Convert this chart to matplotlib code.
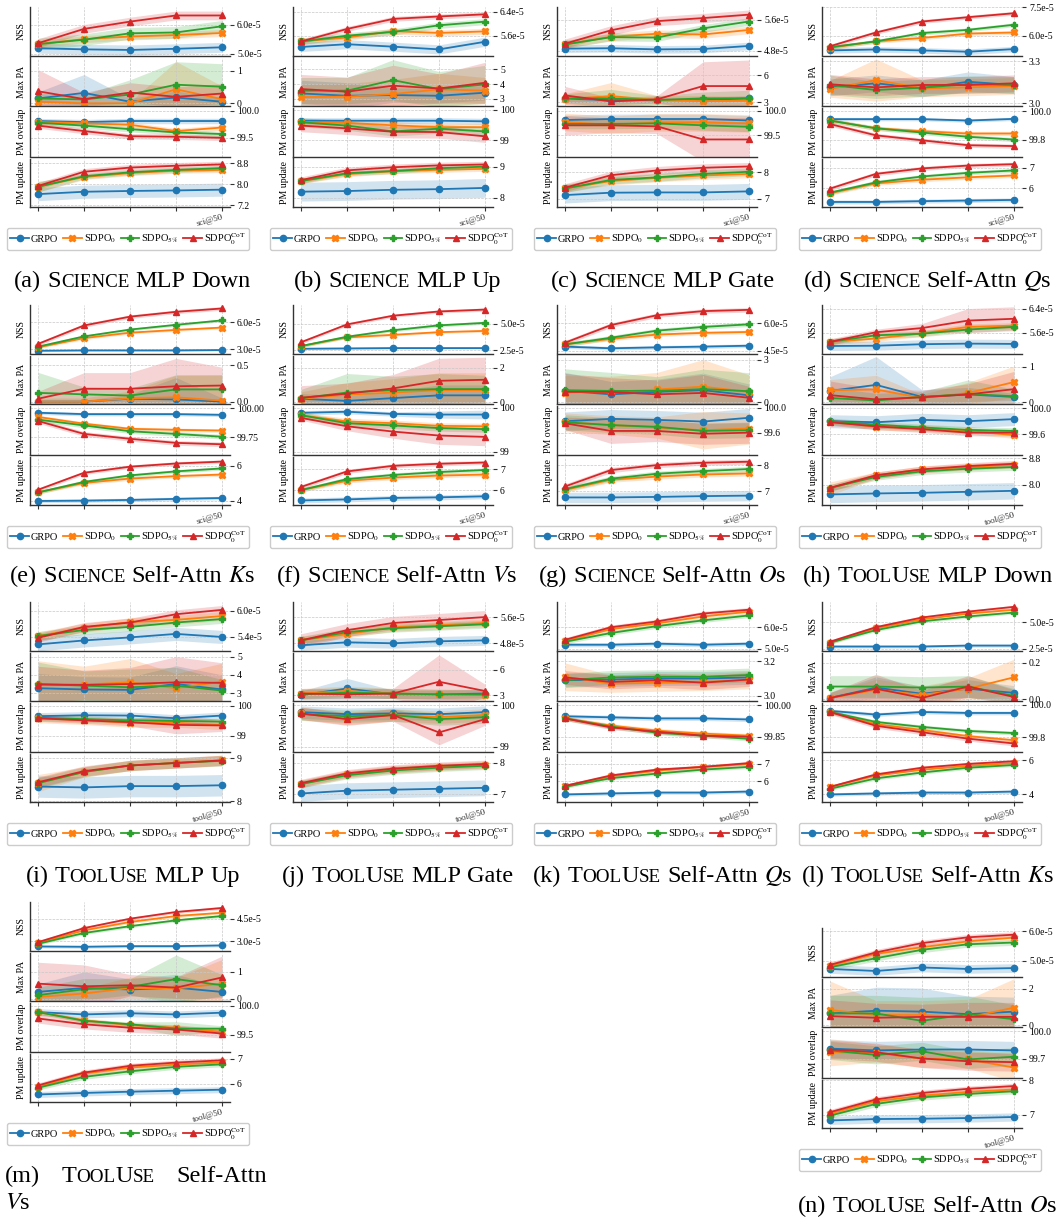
import matplotlib
matplotlib.use('Agg')
import matplotlib.pyplot as plt
import numpy as np

plt.rcParams.update({'font.family': 'Liberation Serif', 'mathtext.fontset': 'stix', 'font.size': 7})

METHODS = ['GRPO', 'SDPO$_0$', 'SDPO$_{5\\%}$', 'SDPO$_0^{\\mathrm{CoT}}$']
COLORS = ['#1f77b4', '#ff7f0e', '#2ca02c', '#d62728']
MARKERS = ['o', 'X', 'P', '^']
METRICS = ['NSS', 'Max PA', 'PM overlap', 'PM update']
PANELS = list('abcdefghijklmn')

# ---- NSS (in units of 1e-5); order: GRPO, SDPO0, SDPO5%, SDPO0-CoT
nss = {
    'a': [[5.19, 5.15, 5.13, 5.17, 5.22], [5.33, 5.50, 5.59, 5.64, 5.71], [5.33, 5.48, 5.70, 5.73, 5.94], [5.36, 5.85, 6.10, 6.31, 6.31]],
    'b': [[5.24, 5.33, 5.25, 5.16, 5.41], [5.42, 5.55, 5.76, 5.70, 5.75], [5.42, 5.61, 5.73, 5.95, 6.07], [5.42, 5.83, 6.16, 6.24, 6.31]],
    'c': [[4.85, 4.86, 4.83, 4.84, 4.92], [4.96, 5.16, 5.24, 5.22, 5.34], [4.96, 5.15, 5.14, 5.38, 5.56], [4.98, 5.33, 5.57, 5.65, 5.74]],
    'd': [[5.22, 5.27, 5.22, 5.15, 5.29], [5.36, 5.70, 5.88, 6.11, 6.17], [5.39, 5.70, 6.14, 6.31, 6.58], [5.44, 6.17, 6.75, 6.98, 7.19]],
    'e': [[2.85, 2.89, 2.89, 2.89, 2.93], [3.23, 4.24, 4.84, 5.14, 5.40], [3.30, 4.43, 5.18, 5.70, 6.19], [3.60, 5.63, 6.60, 7.13, 7.50]],
    'f': [[2.65, 2.68, 2.71, 2.71, 2.71], [2.90, 3.72, 3.96, 4.21, 4.33], [2.90, 3.78, 4.39, 4.85, 5.09], [3.26, 4.94, 5.76, 6.16, 6.34]],
    'g': [[4.73, 4.64, 4.69, 4.73, 4.78], [4.85, 5.15, 5.38, 5.47, 5.52], [4.85, 5.21, 5.59, 5.79, 5.93], [4.94, 5.89, 6.42, 6.64, 6.71]],
    'h': [[5.16, 5.17, 5.22, 5.24, 5.23], [5.30, 5.41, 5.58, 5.80, 5.84], [5.30, 5.52, 5.57, 5.71, 5.80], [5.30, 5.62, 5.76, 6.01, 6.07]],
    'i': [[5.23, 5.32, 5.39, 5.47, 5.40], [5.42, 5.61, 5.74, 5.79, 5.88], [5.42, 5.56, 5.63, 5.73, 5.81], [5.38, 5.63, 5.73, 5.92, 6.02]],
    'j': [[4.74, 4.83, 4.80, 4.86, 4.89], [4.89, 5.08, 5.29, 5.35, 5.42], [4.89, 5.14, 5.26, 5.32, 5.38], [4.89, 5.20, 5.42, 5.51, 5.60]],
    'k': [[5.18, 5.18, 5.23, 5.18, 5.23], [5.36, 5.91, 6.18, 6.50, 6.73], [5.32, 5.73, 6.05, 6.32, 6.55], [5.41, 6.00, 6.27, 6.64, 6.82]],
    'l': [[2.69, 2.69, 2.69, 2.78, 2.78], [3.06, 4.44, 5.28, 5.83, 6.20], [3.06, 4.26, 5.09, 5.56, 5.93], [3.15, 4.54, 5.46, 6.02, 6.48]],
    'm': [[2.64, 2.62, 2.66, 2.66, 2.71], [2.87, 3.72, 4.28, 4.68, 4.90], [2.82, 3.54, 4.00, 4.39, 4.68], [2.93, 3.87, 4.50, 4.95, 5.22]],
    'n': [[4.71, 4.64, 4.76, 4.71, 4.74], [4.82, 5.23, 5.46, 5.66, 5.79], [4.77, 5.08, 5.37, 5.56, 5.62], [4.85, 5.28, 5.60, 5.80, 5.89]],
}
nss_band = {
    'a': [0.17, 0.12, 0.2, 0.15], 'b': [0.15, 0.1, 0.1, 0.08], 'c': [0.1, 0.1, 0.1, 0.12],
    'd': [0.15, 0.1, 0.1, 0.1], 'e': [0.1, 0.15, 0.15, 0.2], 'f': [0.1, 0.12, 0.15, 0.15],
    'g': [0.1, 0.1, 0.12, 0.12], 'h': [0.15, 0.1, 0.1, [0.1, 0.1, 0.15, 0.4, 0.4]],
    'i': [0.15, 0.1, 0.1, 0.1], 'j': [0.15, 0.12, 0.12, 0.2], 'k': [0.1, 0.1, 0.1, 0.1],
    'l': [0.15, 0.15, 0.15, 0.15], 'm': [0.1, 0.1, 0.1, 0.1], 'n': [0.15, 0.1, 0.1, 0.1],
}
nss_ticks = {
    'a': ['5.0e-5', '6.0e-5'], 'b': ['5.6e-5', '6.4e-5'], 'c': ['4.8e-5', '5.6e-5'], 'd': ['6.0e-5', '7.5e-5'],
    'e': ['3.0e-5', '6.0e-5'], 'f': ['2.5e-5', '5.0e-5'], 'g': ['4.5e-5', '6.0e-5'], 'h': ['5.6e-5', '6.4e-5'],
    'i': ['5.4e-5', '6.0e-5'], 'j': ['4.8e-5', '5.6e-5'], 'k': ['5.0e-5', '6.0e-5'], 'l': ['2.5e-5', '5.0e-5'],
    'm': ['3.0e-5', '4.5e-5'], 'n': ['5.0e-5', '6.0e-5'],
}
nss_ylim = {
    'a': (4.94, 6.60), 'b': (4.96, 6.55), 'c': (4.67, 5.94), 'd': (4.95, 7.52), 'e': (2.55, 7.88),
    'f': (2.20, 6.77), 'g': (4.36, 6.97), 'h': (4.91, 6.53), 'i': (5.09, 6.20), 'j': (4.58, 6.06),
    'k': (4.91, 7.18), 'l': (2.31, 6.94), 'm': (2.37, 5.62), 'n': (4.45, 6.12),
}

# ---- Max PA
maxpa = {
    'a': [[0.15, 0.32, 0.05, 0.18, 0.05], [0.05, 0.0, 0.0, 0.43, 0.13], [0.15, 0.12, 0.27, 0.57, 0.51], [0.37, 0.13, 0.33, 0.20, 0.30]],
    'b': [[3.36, 3.20, 3.25, 3.20, 3.41], [3.11, 3.14, 3.32, 3.64, 3.55], [3.55, 3.55, 4.27, 3.66, 3.98], [3.66, 3.48, 3.89, 3.70, 4.09]],
    'c': [[3.37, 3.22, 3.22, 3.22, 3.41], [3.33, 3.67, 3.22, 3.11, 3.15], [3.41, 3.41, 3.22, 3.41, 3.41], [3.74, 3.07, 3.30, 4.78, 4.78]],
    'd': [[3.113, 3.142, 3.106, 3.153, 3.130], [3.102, 3.165, 3.106, 3.113, 3.123], [3.130, 3.094, 3.111, 3.135, 3.130], [3.135, 3.113, 3.130, 3.130, 3.142]],
    'e': [[0.0, 0.0, 0.04, 0.03, 0.0], [0.0, 0.0, 0.045, 0.06, 0.014], [0.12, 0.10, 0.083, 0.167, 0.167], [0.04, 0.176, 0.176, 0.21, 0.22]],
    'f': [[0.2, 0.08, 0.24, 0.40, 0.40], [0.2, 0.44, 0.56, 0.70, 0.70], [0.24, 0.56, 0.70, 0.76, 0.76], [0.26, 0.50, 0.80, 1.24, 1.30]],
    'g': [[0.80, 0.56, 0.73, 0.85, 0.49], [0.68, 0.73, 0.90, 1.10, 0.73], [0.85, 0.80, 0.80, 0.93, 0.78], [0.73, 0.73, 0.56, 0.66, 0.32]],
    'h': [[0.32, 0.49, 0.15, 0.22, 0.15], [0.34, 0.36, 0.12, 0.26, 0.57], [0.12, 0.05, 0.15, 0.23, 0.17], [0.20, 0.08, 0.14, 0.22, 0.37]],
    'i': [[3.27, 3.20, 3.18, 3.50, 3.20], [3.47, 3.47, 3.59, 3.27, 3.63], [3.50, 3.41, 3.32, 3.41, 3.14], [3.47, 3.45, 3.50, 3.59, 3.56]],
    'j': [[3.0, 3.8, 3.1, 3.1, 3.2], [3.2, 3.5, 3.2, 3.1, 3.0], [3.1, 3.3, 3.2, 3.1, 3.1], [3.2, 3.1, 3.2, 4.6, 3.5]],
    'k': [[3.090, 3.094, 3.100, 3.100, 3.106], [3.110, 3.070, 3.076, 3.080, 3.090], [3.090, 3.106, 3.110, 3.110, 3.120], [3.106, 3.080, 3.090, 3.076, 3.094]],
    'l': [[0.006, 0.063, 0.029, 0.057, 0.034], [0.006, 0.05, 0.023, 0.057, 0.12], [0.069, 0.069, 0.063, 0.069, 0.017], [0.006, 0.057, 0.006, 0.069, 0.011]],
    'm': [[0.25, 0.40, 0.34, 0.41, 0.25], [0.06, 0.19, 0.40, 0.38, 0.56], [0.13, 0.35, 0.44, 0.73, 0.50], [0.56, 0.46, 0.50, 0.41, 0.79]],
    'n': [[0.64, 0.79, 0.74, 0.60, 0.74], [0.83, 0.55, 0.55, 0.42, 0.96], [0.64, 0.64, 0.23, 0.60, 0.32], [0.49, 0.40, 0.45, 0.45, 0.45]],
}
maxpa_band = {
    'a': [[0.2, 0.56, 0.1, 0.2, 0.1], [0.1, 0.05, 0.05, 0.85, 0.4], [0.15, 0.15, 0.45, 0.7, 0.7], [0.66, 0.2, 0.3, 0.3, 0.3]],
    'b': [[0.9, 0.9, 0.5, 0.5, 0.5], [0.9, 0.9, 1.0, 1.1, 0.9], [0.9, 0.9, 1.4, 1.2, 1.3], [1.0, 1.0, 1.4, 1.0, 1.4]],
    'c': [[0.4, 0.3, 0.3, 0.3, 0.3], [0.6, 1.5, 0.5, 0.6, 0.5], [0.5, 1.0, 0.5, 0.7, 0.9], [1.0, 0.4, 0.4, 2.7, 2.9]],
    'd': [[0.06, 0.06, 0.06, 0.07, 0.06], [0.06, 0.15, 0.06, 0.06, 0.06], [0.07, 0.06, 0.06, 0.06, 0.06], [0.07, 0.06, 0.06, 0.06, 0.06]],
    'e': [[0.02, 0.02, 0.06, 0.3, 0.05], [0.05, 0.05, 0.1, 0.3, 0.35], [0.28, 0.1, 0.1, 0.2, 0.2], [0.1, 0.22, 0.22, 0.38, 0.25]],
    'f': [[0.3, 0.3, 0.4, 0.6, 0.6], [0.4, 0.7, 0.8, 1.0, 1.0], [0.5, 1.1, 0.8, 0.9, 0.8], [0.7, 0.6, 0.8, 1.3, 1.3]],
    'g': [[1.3, 0.9, 0.9, 1.2, 0.8], [1.2, 1.1, 1.2, 1.9, 1.2], [1.5, 1.3, 1.0, 1.4, 1.3], [1.3, 1.0, 1.0, 1.3, 0.8]],
    'h': [[0.4, 0.8, 0.2, 0.2, 0.1], [0.3, 0.4, 0.1, 0.3, 0.45], [0.3, 0.2, 0.15, 0.4, 0.2], [0.4, 0.3, 0.2, 0.3, 0.5]],
    'i': [[0.8, 0.7, 0.7, 1.0, 0.8], [1.3, 1.0, 1.3, 0.8, 1.0], [1.2, 0.8, 1.0, 1.0, 0.6], [1.0, 0.8, 0.9, 1.4, 1.1]],
    'j': [[0.5, 1.2, 0.5, 0.5, 0.5], [0.6, 0.6, 0.6, 0.6, 0.6], [0.6, 0.6, 0.6, 0.6, 0.6], [0.6, 0.6, 0.6, 3.2, 0.8]],
    'k': [[0.04] * 5, [0.08, 0.05, 0.05, 0.05, 0.05], [0.04] * 5, [0.04] * 5],
    'l': [[0.03, 0.06, 0.04, 0.05, 0.04], [0.03, 0.06, 0.05, 0.06, 0.1], [0.06, 0.06, 0.06, 0.06, 0.04], [0.03, 0.08, 0.04, 0.06, 0.04]],
    'm': [[0.3, 0.6, 0.4, 0.5, 0.2], [0.1, 0.2, 0.4, 0.4, 0.9], [0.3, 0.4, 0.3, 0.9, 0.4], [0.8, 0.8, 0.4, 0.4, 0.8]],
    'n': [[1.0, 1.3, 1.3, 1.0, 0.8], [1.6, 0.8, 0.8, 1.0, 1.6], [1.0, 1.0, 1.3, 1.0, 0.8], [0.9, 0.8, 0.7, 0.8, 0.8]],
}
maxpa_ticks = {
    'a': ['0', '1'], 'b': ['3', '4', '5'], 'c': ['3', '6'], 'd': ['3.0', '3.3'], 'e': ['0.0', '0.5'],
    'f': ['0', '2'], 'g': ['0', '3'], 'h': ['0', '1'], 'i': ['3', '4', '5'], 'j': ['3', '6'],
    'k': ['3.0', '3.2'], 'l': ['0.0', '0.2'], 'm': ['0', '1'], 'n': ['0', '2'],
}
maxpa_ylim = {
    'a': (-0.08, 1.4), 'b': (2.5, 5.82), 'c': (2.56, 7.96), 'd': (2.98, 3.326), 'e': (-0.032, 0.63),
    'f': (-0.1, 2.7), 'g': (-0.12, 3.29), 'h': (-0.05, 1.32), 'i': (2.57, 5.22), 'j': (2.31, 8.08),
    'k': (2.97, 3.25), 'l': (-0.011, 0.257), 'm': (-0.09, 1.725), 'n': (-0.11, 2.57),
}

# ---- PM overlap
overlap = {
    'a': [[99.81, 99.79, 99.81, 99.81, 99.81], [99.79, 99.77, 99.74, 99.625, 99.69], [99.78, 99.725, 99.66, 99.60, 99.57], [99.725, 99.625, 99.53, 99.52, 99.50]],
    'b': [[99.64, 99.64, 99.64, 99.64, 99.62], [99.59, 99.57, 99.49, 99.43, 99.43], [99.59, 99.48, 99.29, 99.38, 99.29], [99.48, 99.39, 99.28, 99.27, 99.13]],
    'c': [[99.81, 99.83, 99.83, 99.83, 99.80], [99.77, 99.71, 99.76, 99.76, 99.74], [99.73, 99.73, 99.74, 99.70, 99.67], [99.70, 99.70, 99.68, 99.41, 99.41]],
    'd': [[99.945, 99.945, 99.945, 99.935, 99.947], [99.935, 99.88, 99.86, 99.843, 99.843], [99.935, 99.88, 99.85, 99.82, 99.80], [99.91, 99.83, 99.795, 99.76, 99.754]],
    'e': [[99.962, 99.95, 99.95, 99.95, 99.944], [99.926, 99.868, 99.824, 99.815, 99.809], [99.903, 99.853, 99.803, 99.78, 99.756], [99.891, 99.78, 99.738, 99.703, 99.691]],
    'f': [[99.885, 99.91, 99.86, 99.846, 99.846], [99.83, 99.69, 99.65, 99.59, 99.58], [99.83, 99.65, 99.60, 99.54, 99.515], [99.77, 99.58, 99.46, 99.37, 99.34]],
    'g': [[99.783, 99.822, 99.806, 99.778, 99.839], [99.767, 99.722, 99.683, 99.639, 99.667], [99.767, 99.722, 99.694, 99.628, 99.639], [99.75, 99.628, 99.628, 99.583, 99.60]],
    'h': [[99.803, 99.787, 99.824, 99.803, 99.835], [99.797, 99.717, 99.696, 99.653, 99.589], [99.803, 99.749, 99.707, 99.669, 99.653], [99.787, 99.723, 99.68, 99.627, 99.627]],
    'i': [[99.65, 99.68, 99.67, 99.58, 99.67], [99.58, 99.52, 99.43, 99.43, 99.35], [99.60, 99.55, 99.51, 99.49, 99.47], [99.58, 99.51, 99.45, 99.36, 99.34]],
    'j': [[99.83, 99.78, 99.80, 99.78, 99.83], [99.80, 99.68, 99.76, 99.71, 99.76], [99.78, 99.73, 99.76, 99.66, 99.71], [99.80, 99.66, 99.76, 99.34, 99.66]],
    'k': [[99.947, 99.942, 99.937, 99.937, 99.932], [99.937, 99.903, 99.879, 99.865, 99.855], [99.937, 99.898, 99.869, 99.855, 99.84], [99.937, 99.894, 99.874, 99.855, 99.85]],
    'l': [[99.963, 99.94, 99.956, 99.95, 99.95], [99.956, 99.88, 99.844, 99.806, 99.78], [99.956, 99.894, 99.863, 99.838, 99.825], [99.956, 99.87, 99.83, 99.79, 99.76]],
    'm': [[99.89, 99.85, 99.87, 99.85, 99.88], [99.89, 99.75, 99.665, 99.62, 99.55], [99.89, 99.74, 99.68, 99.605, 99.605], [99.78, 99.68, 99.62, 99.59, 99.52]],
    'n': [[99.81, 99.79, 99.80, 99.80, 99.79], [99.77, 99.76, 99.70, 99.69, 99.60], [99.79, 99.74, 99.78, 99.69, 99.72], [99.80, 99.77, 99.70, 99.67, 99.66]],
}
overlap_band = {
    'a': [0.05, 0.05, 0.05, 0.05], 'b': [0.1, 0.12, 0.15, 0.2],
    'c': [0.1, 0.18, 0.1, [0.2, 0.15, 0.15, 0.45, 0.45]], 'd': [0.012, 0.015, 0.015, 0.015],
    'e': [0.015, 0.015, 0.02, 0.02], 'f': [[0.05, 0.05, 0.05, 0.08, 0.1], 0.07, 0.07, [0.05, 0.1, 0.15, 0.2, 0.2]],
    'g': [0.15, [0.15, 0.15, 0.17, 0.3, 0.25], 0.12, [0.1, 0.2, 0.17, 0.17, 0.17]],
    'h': [0.1, 0.05, 0.05, 0.05], 'i': [0.12, 0.15, 0.1, [0.1, 0.1, 0.12, 0.3, 0.2]],
    'j': [0.15, 0.15, 0.15, [0.15, 0.15, 0.15, 0.3, 0.15]], 'k': [0.01, 0.01, 0.01, 0.01],
    'l': [0.012, 0.012, 0.012, 0.015], 'm': [0.06, 0.04, [0.03, 0.03, 0.04, 0.12, 0.05], 0.08],
    'n': [0.1, [0.15, 0.1, 0.1, 0.1, 0.15], 0.1, 0.1],
}
overlap_ticks = {
    'a': ['99.5', '100.0'], 'b': ['99', '100'], 'c': ['99.5', '100.0'], 'd': ['99.8', '100.0'],
    'e': ['99.75', '100.00'], 'f': ['99', '100'], 'g': ['99.6', '100.0'], 'h': ['99.6', '100.0'],
    'i': ['99', '100'], 'j': ['99', '100'], 'k': ['99.85', '100.00'], 'l': ['99.8', '100.0'],
    'm': ['99.5', '100.0'], 'n': ['99.7', '100.0'],
}
overlap_ylim = {
    'a': (99.156, 100.05), 'b': (98.47, 100.056), 'c': (99.06, 100.056), 'd': (99.68, 100.024),
    'e': (99.603, 100.02), 'f': (98.94, 100.04), 'g': (99.25, 100.028), 'h': (99.29, 100.037),
    'i': (98.47, 100.09), 'j': (98.88, 100.05), 'k': (99.78, 100.01), 'l': (99.71, 100.012),
    'm': (99.21, 100.047), 'n': (99.49, 100.027),
}

# ---- PM update
update = {
    'a': [[7.63, 7.72, 7.75, 7.77, 7.80], [7.91, 8.28, 8.43, 8.52, 8.55], [7.91, 8.31, 8.46, 8.55, 8.62], [7.94, 8.48, 8.64, 8.71, 8.76]],
    'b': [[8.20, 8.22, 8.26, 8.28, 8.32], [8.54, 8.76, 8.85, 8.90, 8.93], [8.54, 8.79, 8.86, 8.95, 9.00], [8.57, 8.88, 8.98, 9.04, 9.07]],
    'c': [[7.13, 7.22, 7.23, 7.23, 7.27], [7.38, 7.66, 7.78, 7.87, 7.93], [7.38, 7.70, 7.80, 7.93, 8.01], [7.41, 7.88, 8.06, 8.16, 8.21]],
    'd': [[5.32, 5.32, 5.36, 5.39, 5.42], [5.75, 6.24, 6.42, 6.54, 6.63], [5.78, 6.29, 6.58, 6.76, 6.88], [5.98, 6.71, 6.98, 7.12, 7.19]],
    'e': [[4.0, 4.02, 4.06, 4.12, 4.17], [4.49, 5.03, 5.28, 5.42, 5.51], [4.49, 5.09, 5.46, 5.69, 5.86], [4.64, 5.61, 5.96, 6.14, 6.25]],
    'f': [[5.5, 5.55, 5.62, 5.65, 5.70], [6.0, 6.45, 6.6, 6.7, 6.75], [6.0, 6.53, 6.73, 6.87, 6.97], [6.15, 6.9, 7.17, 7.27, 7.33]],
    'g': [[6.77, 6.77, 6.79, 6.82, 6.84], [7.06, 7.45, 7.57, 7.65, 7.69], [7.09, 7.49, 7.68, 7.78, 7.86], [7.19, 7.82, 8.01, 8.10, 8.14]],
    'h': [[7.70, 7.73, 7.75, 7.78, 7.81], [7.88, 8.28, 8.46, 8.53, 8.60], [7.90, 8.23, 8.40, 8.48, 8.53], [7.90, 8.28, 8.46, 8.56, 8.63]],
    'i': [[8.34, 8.32, 8.35, 8.35, 8.37], [8.42, 8.68, 8.83, 8.89, 8.95], [8.42, 8.68, 8.83, 8.89, 8.94], [8.44, 8.70, 8.83, 8.89, 8.95]],
    'j': [[7.03, 7.12, 7.15, 7.18, 7.21], [7.33, 7.64, 7.79, 7.88, 7.94], [7.33, 7.61, 7.76, 7.85, 7.91], [7.36, 7.67, 7.82, 7.91, 7.97]],
    'k': [[5.22, 5.28, 5.33, 5.33, 5.39], [5.72, 6.28, 6.61, 6.83, 7.00], [5.67, 6.17, 6.44, 6.67, 6.83], [5.72, 6.33, 6.67, 6.83, 7.05]],
    'l': [[4.0, 4.06, 4.11, 4.11, 4.17], [4.44, 5.11, 5.44, 5.67, 5.83], [4.33, 4.94, 5.28, 5.56, 5.72], [4.44, 5.17, 5.56, 5.78, 5.94]],
    'm': [[5.57, 5.63, 5.68, 5.72, 5.76], [5.87, 6.40, 6.64, 6.76, 6.85], [5.84, 6.27, 6.49, 6.67, 6.77], [5.93, 6.44, 6.71, 6.84, 6.93]],
    'n': [[6.83, 6.87, 6.88, 6.90, 6.93], [7.03, 7.39, 7.55, 7.66, 7.73], [6.97, 7.31, 7.50, 7.60, 7.68], [7.07, 7.44, 7.63, 7.75, 7.83]],
}
update_band = {
    'a': [0.25, [0.2, 0.1, 0.1, 0.1, 0.1], [0.2, 0.1, 0.1, 0.1, 0.1], 0.12], 'b': [0.3, 0.08, 0.08, 0.1],
    'c': [0.3, 0.15, 0.15, 0.15], 'd': [0.1, 0.1, 0.1, 0.1], 'e': [0.1, 0.1, 0.1, 0.1],
    'f': [0.12, 0.1, 0.1, 0.1], 'g': [0.2, 0.1, 0.1, 0.1], 'h': [0.25, [0.2, 0.1, 0.1, 0.1, 0.1], 0.1, 0.1],
    'i': [0.25, [0.2, 0.12, 0.12, 0.12, 0.12], 0.12, 0.12], 'j': [0.25, 0.12, 0.12, 0.12],
    'k': [0.1, 0.1, 0.1, 0.1], 'l': [0.1, 0.1, 0.1, 0.1], 'm': [0.12, 0.1, 0.1, 0.1], 'n': [0.12, 0.08, 0.08, 0.08],
}
update_ticks = {
    'a': ['7.2', '8.0', '8.8'], 'b': ['8', '9'], 'c': ['7', '8'], 'd': ['6', '7'], 'e': ['4', '6'],
    'f': ['6', '7'], 'g': ['7', '8'], 'h': ['8.0', '8.8'], 'i': ['8', '9'], 'j': ['7', '8'],
    'k': ['6', '7'], 'l': ['4', '6'], 'm': ['6', '7'], 'n': ['7', '8'],
}
update_ylim = {
    'a': (7.14, 8.985), 'b': (7.71, 9.26), 'c': (6.68, 8.51), 'd': (5.07, 7.47), 'e': (3.77, 6.54),
    'f': (5.28, 7.62), 'g': (6.48, 8.34), 'h': (7.38, 8.85), 'i': (7.98, 9.11), 'j': (6.76, 8.3),
    'k': (4.78, 7.61), 'l': (3.56, 6.39), 'm': (5.27, 7.2), 'n': (6.61, 8.02),
}

captions = {
    'a': '(a) ~Science MLP Down', 'b': '(b) ~Science MLP Up', 'c': '(c) ~Science MLP Gate',
    'd': '(d) ~Science Self-Attn $Q$s', 'e': '(e) ~Science Self-Attn $K$s', 'f': '(f) ~Science Self-Attn $V$s',
    'g': '(g) ~Science Self-Attn $O$s', 'h': '(h) ~ToolUse MLP Down', 'i': '(i) ~ToolUse MLP Up',
    'j': '(j) ~ToolUse MLP Gate', 'k': '(k) ~ToolUse Self-Attn $Q$s', 'l': '(l) ~ToolUse Self-Attn $K$s',
    'm': '(m) ~ToolUse Self-Attn $V$s', 'n': '(n) ~ToolUse Self-Attn $O$s',
}

# ---- layout (pixels)
DPI = 100
FW, FH = 1061, 1218
POS = {'a': (30, 7), 'b': (293, 7), 'c': (557, 7), 'd': (822, 7),
       'e': (30, 305), 'f': (293, 305), 'g': (557, 305), 'h': (822, 305),
       'i': (30, 602), 'j': (293, 602), 'k': (557, 602), 'l': (822, 602),
       'm': (30, 902), 'n': (822, 928)}
CAP_Y = {'a': 287, 'b': 287, 'c': 287, 'd': 287, 'e': 582, 'f': 582, 'g': 582, 'h': 582,
         'i': 882, 'j': 882, 'k': 882, 'l': 882, 'n': 1212}
AW, AH, GAP = 200, 48.5, 2
CAP_FS = 17.5
SC_SCALE = 0.78

fig = plt.figure(figsize=(FW / DPI, FH / DPI), dpi=DPI)
renderer = fig.canvas.get_renderer()


def rect(left, top, w, h):
    return [left / FW, 1 - (top + h) / FH, w / FW, h / FH]


def draw_panel(p):
    left, top = POS[p]
    x = np.arange(5)
    sources = [(nss, nss_band, nss_ticks, nss_ylim, 1e5),
               (maxpa, maxpa_band, maxpa_ticks, maxpa_ylim, 1),
               (overlap, overlap_band, overlap_ticks, overlap_ylim, 1),
               (update, update_band, update_ticks, update_ylim, 1)]
    handles = None
    for i, (means, bands, ticks, ylims, scale) in enumerate(sources):
        ax = fig.add_axes(rect(left, top + i * (AH + GAP), AW, AH))
        for k in range(4):
            m = np.array(means[p][k])
            b = np.broadcast_to(np.array(bands[p][k], dtype=float), m.shape)
            ax.fill_between(x, m - b, m + b, color=COLORS[k], alpha=0.2, lw=0)
        handles = []
        for k in range(4):
            h, = ax.plot(x, means[p][k], color=COLORS[k], marker=MARKERS[k], ms=4.5, lw=1.3,
                         label=METHODS[k])
            handles.append(h)
        ax.set_xlim(-0.174, 4.174)
        ax.set_ylim(*ylims[p])
        ax.set_yticks([float(t) * scale for t in ticks[p]])
        ax.set_yticklabels(ticks[p])
        ax.yaxis.tick_right()
        ax.yaxis.set_label_position('left')
        ax.set_ylabel(METRICS[i], fontsize=7, labelpad=3)
        ax.tick_params(axis='y', length=3, width=0.8, pad=2, labelsize=7, color='#333333')
        ax.set_xticks(x)
        if i < 3:
            ax.tick_params(axis='x', length=0, labelbottom=False)
        else:
            tag = 'sci@50' if p in 'abcdefg' else 'tool@50'
            ax.set_xticklabels(['', '', '', '', tag], rotation=15, ha='right',
                               rotation_mode='anchor', fontsize=6.5, color='#333333')
            ax.tick_params(axis='x', length=3, width=0.8, pad=1.5, color='#333333')
        ax.grid(True, ls='--', lw=0.5, color='#c8c8c8')
        for s in ['top', 'right']:
            ax.spines[s].set_visible(False)
        for s in ['left', 'bottom']:
            ax.spines[s].set_color('#333333')
            ax.spines[s].set_linewidth(1.0)
    fig.legend(handles, METHODS, loc='center', ncol=4, fontsize=7.5,
               bbox_to_anchor=((left + 98) / FW, 1 - (top + 4 * AH + 3 * GAP + 32) / FH),
               handlelength=1.8, handletextpad=0.2, columnspacing=0.45, borderpad=0.3,
               edgecolor='#cccccc', framealpha=1)


def token_pieces(tok):
    if not tok.startswith('~'):
        return [[tok, 1.0]]
    out = []
    for ch in tok[1:]:
        sc = 1.0 if ch.isupper() else SC_SCALE
        if out and out[-1][1] == sc:
            out[-1][0] += ch.upper()
        else:
            out.append([ch.upper(), sc])
    return out


def place_line(tokens, y, center=None, x=None, width=None):
    items = []
    for tok in tokens:
        arts = [fig.text(0, 0, s, fontsize=CAP_FS * sc, va='baseline', ha='left')
                for s, sc in token_pieces(tok)]
        items.append(arts)
    widths = [[a.get_window_extent(renderer).width for a in arts] for arts in items]
    tokw = [sum(w) for w in widths]
    gap = 0.25 * CAP_FS * DPI / 72
    if width is not None and len(tokens) > 1:
        gap = (width - sum(tokw)) / (len(tokens) - 1)
    total = sum(tokw) + gap * (len(tokens) - 1)
    x0 = center - total / 2 if center is not None else x
    for arts, ws in zip(items, widths):
        for a, w in zip(arts, ws):
            a.set_position((x0 / FW, 1 - y / FH))
            x0 += w
        x0 += gap


for p in PANELS:
    draw_panel(p)
    toks = captions[p].split(' ')
    if p == 'm':
        place_line(toks[:3], 1182, x=5, width=262)
        place_line(toks[3:], 1209, x=5)
    else:
        col = (POS[p][0] - 30) // 263
        place_line(toks, CAP_Y[p], center=132.5 + 265 * col)

fig.savefig('out.png', dpi=DPI)
